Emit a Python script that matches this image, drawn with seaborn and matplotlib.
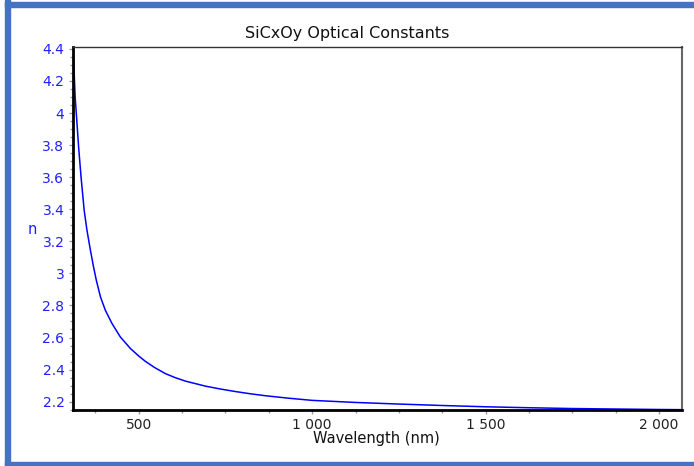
import seaborn as sns
import pandas as pd
import numpy as np
import matplotlib.pyplot as plt
from matplotlib.ticker import MultipleLocator, FuncFormatter
from matplotlib.patches import Rectangle

# values
wavelength = [311, 317, 327, 334, 343, 351, 361, 370, 378, 390, 404, 423, 447, 476,
              500, 519, 545, 577, 605, 635, 692, 735, 779, 822, 865, 930, 1000,
              1125, 1250, 1375, 1500, 1625, 1750, 1875, 2000, 2066]
n_index = [4.406, 4.10, 3.787, 3.60, 3.393, 3.269, 3.144, 3.04, 2.957, 2.853, 2.770,
           2.688, 2.604, 2.532, 2.485, 2.452, 2.414, 2.375, 2.350, 2.328, 2.297, 2.279,
           2.263, 2.249, 2.237, 2.222, 2.208, 2.195, 2.185, 2.176, 2.168, 2.162, 2.157,
           2.154, 2.151, 2.150]

x_limits = (310, 2066)
y_limits = (2.148, 4.41)

sns.set_style("white")
plt.rcParams['font.family'] = ['DejaVu Sans']

df = pd.DataFrame({'Wavelength': wavelength, 'n': n_index})

fig = plt.figure(figsize=(6.94, 4.66), dpi=100)
ax = fig.add_axes([0.1048, 0.1202, 0.8779, 0.7783])

sns.lineplot(data=df, x='Wavelength', y='n', ax=ax, color='#0000ff', linewidth=1.1)

ax.set_xlim(*x_limits)
ax.set_ylim(*y_limits)
ax.set_xlabel('')
ax.set_ylabel('')

ax.xaxis.set_major_locator(MultipleLocator(500))
ax.xaxis.set_minor_locator(MultipleLocator(125))
ax.yaxis.set_major_locator(MultipleLocator(0.2))
ax.yaxis.set_minor_locator(MultipleLocator(0.05))

ax.xaxis.set_major_formatter(FuncFormatter(lambda v, p: '{:,.0f}'.format(v).replace(',', ' ')))
ax.yaxis.set_major_formatter(FuncFormatter(lambda v, p: ('%.1f' % v).rstrip('0').rstrip('.')))

ax.tick_params(axis='both', which='major', direction='out', length=3, width=1,
               color='#999999', labelsize=10, pad=3)
ax.tick_params(axis='both', which='minor', direction='out', length=2, width=1, color='#999999')
ax.tick_params(axis='y', labelcolor='#2020ff')
ax.tick_params(axis='x', labelcolor='#222222')
ax.tick_params(bottom=True, left=True, which='both')

for side in ['left', 'bottom']:
    ax.spines[side].set_color('black')
    ax.spines[side].set_linewidth(2)
ax.spines['top'].set_color('#333333')
ax.spines['top'].set_linewidth(1)
ax.spines['right'].set_color('#666666')
ax.spines['right'].set_linewidth(1.5)

fig.text(0.5, 0.929, 'SiCxOy Optical Constants', ha='center', va='center',
         fontsize=11.5, color='#111111')
fig.text(376.0 / 694, 0.058, 'Wavelength (nm)', ha='center', va='center',
         fontsize=10.5, color='#111111')
fig.text(32.0 / 694, 1 - 230.0 / 466, 'n', ha='center', va='center',
         fontsize=10.5, color='#2020ff')

# blue frame around the chart (left, top, bottom)
frame = '#4472c4'
fig.patches.append(Rectangle((5.0 / 694, 0), 5.0 / 694, 1, transform=fig.transFigure,
                             color=frame, zorder=5))
fig.patches.append(Rectangle((5.0 / 694, 1 - 7.0 / 466), 1, 5.0 / 466,
                             transform=fig.transFigure, color=frame, zorder=5))
fig.patches.append(Rectangle((5.0 / 694, 0), 1, 4.5 / 466, transform=fig.transFigure,
                             color=frame, zorder=5))

fig.savefig('out.png', dpi=100)
